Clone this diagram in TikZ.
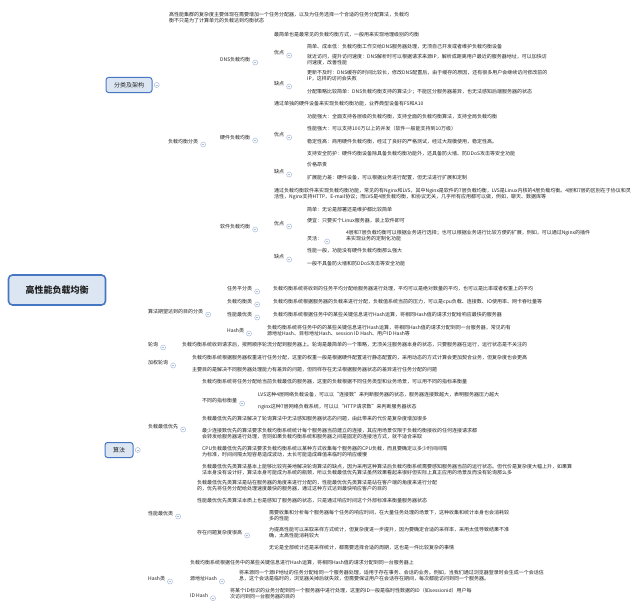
\documentclass[tikz,border=0pt]{standalone}
\usepackage{fontspec}
\setmainfont{Noto Sans CJK SC}
\usetikzlibrary{positioning, backgrounds}
\definecolor{branch}{HTML}{4677C2}
\definecolor{branchsoft}{HTML}{94B0DA}
\definecolor{boxfill}{HTML}{DCE6F3}
\definecolor{knobline}{HTML}{A9BCD9}
\definecolor{textdark}{HTML}{222222}

\begin{document}
\begin{tikzpicture}[
    x=1pt, y=-1pt,
    every node/.style={inner sep=0pt},
    topic/.style={
        anchor=west, align=left, font=\fontsize{5}{6}\selectfont,
        text=textdark, inner xsep=1.5pt, inner ysep=1.5pt
    },
    mainbox/.style={
        draw=branch, line width=1pt, rounded corners=2.5pt,
        fill=boxfill, font=\fontsize{6}{7}\selectfont, text=textdark,
        minimum height=15pt, inner xsep=8pt
    },
    rootbox/.style={
        draw=branch, line width=1.6pt, rounded corners=4pt,
        fill=boxfill, font=\fontsize{9}{10}\selectfont\bfseries, text=textdark,
        minimum width=97pt, minimum height=30pt
    },
    knob/.style={
        circle, draw=knobline, fill=white, line width=0.5pt, minimum size=5pt,
        path picture={\draw[knobline, line width=0.4pt]
            ([xshift=-1.2pt]path picture bounding box.center) --
            ([xshift=1.2pt]path picture bounding box.center);}
    },
    link/.style={draw=branchsoft, line width=0.7pt, rounded corners=3pt},
    uline/.style={draw=branch, line width=1.4pt},
]
\fill[white] (0,0) rectangle (640,610);
\useasboundingbox (0,0) rectangle (640,610);

% === root and main branches ===
\node[rootbox] (root) at (57,290) {高性能负载均衡};
\node[mainbox] (arch) at (129,85) {分类及架构};
\node[mainbox] (algo) at (119,450) {算法};

% === 分类及架构 ===
\node[topic] (intro) at (167.5,17.5) {高性能集群的复杂度主要体现在需要增加一个任务分配器，以及为任务选择一个合适的任务分配算法，负载均\\衡不只是为了计算单元的负载达到均衡状态};
\node[topic] (lbcls) at (166.5,142) {负载均衡分类};

\node[topic] (dns) at (218.5,60) {DNS负载均衡};
\node[topic] (hw) at (218.5,138) {硬件负载均衡};
\node[topic] (sw) at (218.5,227) {软件负载均衡};

% DNS
\node[topic] (dnsdef) at (272.5,35) {最简单也是最常见的负载均衡方式，一般用来实现地理级别的均衡};
\node[topic] (dnspro) at (272.5,53) {优点};
\node[topic] (dnscon) at (272.5,84) {缺点};
\node[topic] (dnspro1) at (305.5,46.5) {简单、成本低：负载均衡工作交给DNS服务器处理，无须自己开发或者维护负载均衡设备};
\node[topic] (dnspro2) at (305.5,60) {就近访问，提升访问速度：DNS解析时可以根据请求来源IP，解析成距离用户最近的服务器地址，可以加快访\\问速度，改善性能};
\node[topic] (dnscon1) at (305.5,76) {更新不及时：DNS缓存的时间比较长，修改DNS配置后，由于缓存的原因，还有很多用户会继续访问修改前的\\IP，这样的访问会失败};
\node[topic] (dnscon2) at (305.5,92) {分配策略比较简单：DNS负载均衡支持的算法少；不能区分服务器差异，也无法感知后端服务器的状态};

% hardware
\node[topic] (hwdef) at (272.5,104) {通过单独的硬件设备来实现负载均衡功能，业界典型设备有F5和A10};
\node[topic] (hwpro) at (272.5,135) {优点};
\node[topic] (hwcon) at (272.5,172) {缺点};
\node[topic] (hwpro1) at (305.5,117) {功能强大：全面支持各层级的负载均衡，支持全面的负载均衡算法，支持全局负载均衡};
\node[topic] (hwpro2) at (305.5,128.5) {性能强大：可以支持100万以上的并发（软件一般能支持到10万级）};
\node[topic] (hwpro3) at (305.5,142) {稳定性高：商用硬件负载均衡，经过了良好的严格测试，经过大规模使用，稳定性高。};
\node[topic] (hwpro4) at (305.5,154) {支持安全防护：硬件均衡设备除具备负载均衡功能外，还具备防火墙、防DDoS攻击等安全功能};
\node[topic] (hwcon1) at (305.5,165) {价格昂贵};
\node[topic] (hwcon2) at (305.5,178) {扩展能力差：硬件设备，可以根据业务进行配置，但无法进行扩展和定制};

% software
\node[topic] (swdef) at (272.5,194) {通过负载均衡软件来实现负载均衡功能，常见的有Nginx和LVS，其中Nginx是软件的7层负载均衡，LVS是Linux内核的4层负载均衡。4层和7层的区别在于协议和灵\\活性，Nginx支持HTTP、E-mail协议；而LVS是4层负载均衡，和协议无关，几乎所有应用都可以做，例如，聊天、数据库等};
\node[topic] (swpro) at (272.5,224) {优点};
\node[topic] (swcon) at (272.5,257) {缺点};
\node[topic] (swpro1) at (305.5,210) {简单：无论是部署还是维护都比较简单};
\node[topic] (swpro2) at (305.5,221) {便宜：只要买个Linux服务器，装上软件即可};
\node[topic] (swflex) at (305.5,239) {灵活：};
\node[topic] (swflext) at (344.5,236) {4层和7层负载均衡可以根据业务进行选择；也可以根据业务进行比较方便的扩展，例如，可以通过Nginx的插件\\来实现业务的定制化功能};
\node[topic] (swcon1) at (305.5,251) {性能一般，功能没有硬件负载均衡那么强大};
\node[topic] (swcon2) at (305.5,264) {一般不具备防火墙和防DDoS攻击等安全功能};

% === 算法 ===
\node[topic] (goal) at (146.5,312) {算法期望达到的目的分类};
\node[topic] (rr) at (146.5,345) {轮询};
\node[topic] (wrr) at (146.5,363) {加权轮询};
\node[topic] (least) at (146.5,427) {负载最低优先};
\node[topic] (perf) at (146.5,514) {性能最优类};
\node[topic] (hash) at (146.5,579) {Hash类};

\node[topic] (gavg) at (225.5,289) {任务平分类};
\node[topic] (gload) at (225.5,302) {负载均衡类};
\node[topic] (gperf) at (225.5,315) {性能最优类};
\node[topic] (ghash) at (225.5,331) {Hash类};
\node[topic] (gavgt) at (271.5,289) {负载均衡系统将收到的任务平均分配给服务器进行处理，平均可以是绝对数量的平均，也可以是比率或者权重上的平均};
\node[topic] (gloadt) at (271.5,302) {负载均衡系统根据服务器的负载来进行分配，负载值系统当前的压力，可以是cpu负载、连接数、IO使用率、网卡吞吐量等};
\node[topic] (gperft) at (271.5,315) {负载均衡系统根据任务中的某些关键信息进行Hash运算，将相同Hash值的请求分配给响应最快的服务器};
\node[topic] (ghasht) at (265.5,331) {负载均衡系统将任务中的的某些关键信息进行Hash运算，将相同Hash值的请求分配到同一台服务器，常见的有\\源地址Hash、目标地址Hash、session ID Hash、用户ID Hash等};

\node[topic] (rrt) at (180.5,345) {负载均衡系统收到请求后，按照顺序轮流分配到服务器上。轮询是最简单的一个策略，无须关注服务器本身的状态，只要服务器在运行，运行状态是不关注的};

\node[topic] (wrr1) at (190.5,357.5) {负载均衡系统根据服务器权重进行任务分配，这里的权重一般是根据硬件配置进行静态配置的，采用动态的方式计算会更加契合业务，但复杂度也会更高};
\node[topic] (wrr2) at (190.5,369.5) {主要目的是解决不同服务器处理能力有差异的问题，但同样存在无法根据服务器状态的差异进行任务分配的问题};

\node[topic] (least1) at (200.5,382) {负载均衡系统将任务分配给当前负载最低的服务器，这里的负载根据不同任务类型和业务场景，可以用不同的指标来衡量};
\node[topic] (metric) at (200.5,401) {不同的指标衡量};
\node[topic] (metric1) at (256.5,395) {LVS这种4层网络负载设备，可以以“连接数”来判断服务器的状态，服务器连接数越大，表明服务器压力越大};
\node[topic] (metric2) at (256.5,407) {nginx这种7层网络负载系统，可以以“HTTP请求数”来判断服务器状态};
\node[topic] (least2) at (200.5,419) {负载最低优先的算法解决了轮询算法中无法感知服务器状态的问题，由此带来的代价是复杂度增加很多};
\node[topic] (least3) at (200.5,433.5) {最少连接数优先的算法要求负载均衡系统统计每个服务器当前建立的连接，其应用场景仅限于负载均衡接收的任何连接请求都\\会转发给服务器进行处理，否则如果负载均衡系统和服务器之间是固定的连接池方式，就不适合采取};
\node[topic] (least4) at (200.5,451.5) {CPU负载最低优先的算法要求负载均衡系统以某种方式收集每个服务器的CPU负载，而且要确定以多少时间间隔\\为标准，时间间隔太短容易造成波动，太长可能造成峰值来临时的响应缓慢};
\node[topic] (least5) at (200.5,469.5) {负载最低优先类算法基本上能够比较完美地解决轮询算法的缺点，因为采用这种算法后负载均衡系统需要感知服务器当前的运行状态。但代价是复杂度大幅上升，如果算\\法本身没有设计好，算法本身可能成为系统的瓶颈，所以负载最低优先算法虽然效果看起来很好但实际上真正应用的场景反而没有轮询那么多};

\node[topic] (perf1) at (195.5,485.5) {负载最低优先类算法是站在服务器的角度来进行分配的，性能最优优先类算法是站在客户端的角度来进行分配\\的，优先将任务分配给处理速度最快的服务器，通过这种方式达到最快响应客户的目的};
\node[topic] (perf2) at (195.5,501) {性能最优优先类算法本质上也是感知了服务器的状态，只是通过响应时间这个外部标准来衡量服务器状态};
\node[topic] (cost) at (195.5,533) {存在问题复杂度很高};
\node[topic] (cost1) at (267.5,515.5) {需要收集和分析每个服务器每个任务的响应时间，在大量任务处理的场景下，这种收集和统计本身也会消耗较\\多的性能};
\node[topic] (cost2) at (267.5,532.5) {为提高性能可以采取采样方式统计，但复杂度进一步提升，因为要确定合适的采样率，采用太低导致结果不准\\确，太高性能消耗较大};
\node[topic] (cost3) at (267.5,548) {无论是全部统计还是采样统计，都需要选择合适的周期，这也是一件比较复杂的事情};

\node[topic] (hash1) at (188.5,563) {负载均衡系统根据任务中的某些关键信息进行Hash运算，将相同Hash值的请求分配到同一台服务器上};
\node[topic] (srchash) at (188.5,579) {源地址Hash};
\node[topic] (idhash) at (188.5,596) {ID Hash};
\node[topic] (srchasht) at (237.5,576) {将来源同一个源IP地址的任务分配给同一个服务器处理，适用于存在事务、会话的业务。例如，当我们通过浏览器登录时会生成一个会话信\\息，这个会话是临时的，浏览器关掉后就失效，但需要保证用户在会话存在期间，每次都能访问到同一个服务器。};
\node[topic] (idhasht) at (228.5,594) {将某个ID标识的业务分配到同一个服务器中进行处理，这里的ID一般是临时性数据的ID（如sessionid）用户每\\次访问到同一台服务器的目的};

% === collapse knobs ===
\node[knob, right=1.5pt of arch] (arch-kn) {};
\node[knob, right=1.5pt of algo] (algo-kn) {};
\foreach \n in {lbcls, dns, dnspro, dnscon, hw, hwpro, hwcon, sw, swpro, swflex, swcon,
                goal, gavg, gload, gperf, ghash, rr, wrr, least, metric, perf, cost,
                hash, srchash, idhash}
    \node[knob, right=0.5pt of \n.south east, yshift=1.5pt] (\n-kn) {};

% === connectors ===
\begin{scope}[on background layer]
\draw[link, line width=0.9pt] ([xshift=3pt]root.north) to[out=90, in=180] (arch.west);
\draw[link, line width=0.9pt] ([xshift=3pt]root.south) to[out=-90, in=180] (algo.west);

\foreach \p/\c in {arch/intro, arch/lbcls,
                   lbcls/dns, lbcls/hw, lbcls/sw,
                   dns/dnsdef, dns/dnspro, dns/dnscon,
                   dnspro/dnspro1, dnspro/dnspro2, dnscon/dnscon1, dnscon/dnscon2,
                   hw/hwdef, hw/hwpro, hw/hwcon,
                   hwpro/hwpro1, hwpro/hwpro2, hwpro/hwpro3, hwpro/hwpro4,
                   hwcon/hwcon1, hwcon/hwcon2,
                   sw/swdef, sw/swpro, sw/swcon,
                   swpro/swpro1, swpro/swpro2, swpro/swflex, swflex/swflext,
                   swcon/swcon1, swcon/swcon2,
                   algo/goal, algo/rr, algo/wrr, algo/least, algo/perf, algo/hash,
                   goal/gavg, goal/gload, goal/gperf, goal/ghash,
                   gavg/gavgt, gload/gloadt, gperf/gperft, ghash/ghasht,
                   rr/rrt, wrr/wrr1, wrr/wrr2,
                   least/least1, least/metric, least/least2, least/least3,
                   least/least4, least/least5,
                   metric/metric1, metric/metric2,
                   perf/perf1, perf/perf2, perf/cost,
                   cost/cost1, cost/cost2, cost/cost3,
                   hash/hash1, hash/srchash, hash/idhash,
                   srchash/srchasht, idhash/idhasht}
    \draw[link] (\p-kn.center) -- ++(5,0) |- (\c.south west);

% underlines
\foreach \c in {intro, lbcls, dns, hw, sw, dnsdef, dnspro, dnscon, dnspro1, dnspro2,
                dnscon1, dnscon2, hwdef, hwpro, hwcon, hwpro1, hwpro2, hwpro3, hwpro4,
                hwcon1, hwcon2, swdef, swpro, swcon, swpro1, swpro2, swflex, swflext,
                swcon1, swcon2, goal, rr, wrr, least, perf, hash,
                gavg, gload, gperf, ghash, gavgt, gloadt, gperft, ghasht, rrt,
                wrr1, wrr2, least1, metric, metric1, metric2, least2, least3, least4,
                least5, perf1, perf2, cost, cost1, cost2, cost3,
                hash1, srchash, idhash, srchasht, idhasht}
    \draw[uline] (\c.south west) -- (\c.south east);
\end{scope}

\end{tikzpicture}
\end{document}
